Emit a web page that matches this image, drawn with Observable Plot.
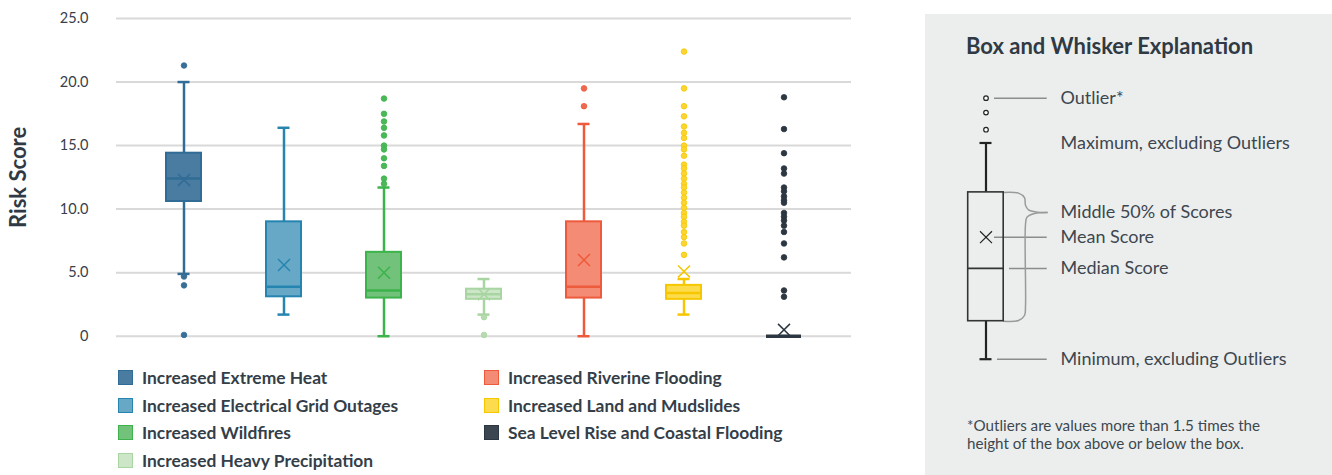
<!DOCTYPE html>
<html><head><meta charset="utf-8">
<script src="https://cdn.jsdelivr.net/npm/d3@7"></script>
<script src="https://cdn.jsdelivr.net/npm/@observablehq/plot@0.6"></script>
<style>
body{margin:0;background:#fff;font-family:Lato,"Open Sans",sans-serif;color:#343e48;}
#wrap{position:relative;width:1332px;height:475px;overflow:hidden;}
#chart{position:absolute;left:0;top:0;}
#legend{position:absolute;left:118px;top:364px;display:grid;grid-template-columns:366px auto;grid-template-rows:repeat(4,27.6px);grid-auto-flow:column;}
.item{display:flex;align-items:center;font-size:17.4px;font-weight:700;white-space:nowrap;color:#343e48;}
.sw{width:15px;height:15px;box-sizing:border-box;border:1.5px solid;margin-right:9px;flex:none;}
#panel{position:absolute;left:925px;top:14px;width:407px;height:461px;background:#ECEEEE;}
#ptitle{position:absolute;left:41px;top:19px;font-size:22px;font-weight:700;line-height:26px;color:#2f3a44;}
#pdiag{position:absolute;left:0;top:66px;}
#pnote{position:absolute;left:42px;top:402px;font-size:15.2px;line-height:18px;color:#3d4750;}
</style></head><body>
<div id="wrap">
  <div id="chart"></div>
  <div id="legend"></div>
  <div id="panel">
    <div id="ptitle">Box and Whisker Explanation</div>
    <div id="pdiag"></div>
    <div id="pnote">*Outliers are values more than 1.5 times the<br>height of the box above or below the box.</div>
  </div>
</div>
<script>
// ---------- data ----------
const categories = [
  "Increased Extreme Heat",
  "Increased Electrical Grid Outages",
  "Increased Wildfires",
  "Increased Heavy Precipitation",
  "Increased Riverine Flooding",
  "Increased Land and Mudslides",
  "Sea Level Rise and Coastal Flooding"
];
const q1Values      = [10.6, 3.1, 3.0, 2.9, 3.0, 2.9, 0];
const medianValues  = [12.4, 3.9, 3.6, 3.3, 3.9, 3.4, 0];
const q3Values      = [14.4, 9.0, 6.6, 3.7, 9.0, 4.0, 0];
const meanValues    = [12.3, 5.6, 5.0, 3.3, 6.0, 5.1, 0.5];
const whiskerLow    = [4.9, 1.7, 0, 1.7, 0, 1.7, 0];
const whiskerHigh   = [20.0, 16.4, 11.7, 4.5, 16.7, 4.5, 0];
const outlierValues = [
  [21.3, 4.7, 4.0, 0.1],
  [],
  [18.7, 17.5, 16.9, 16.4, 15.8, 15.0, 14.7, 14.0, 13.4, 12.4, 12.0],
  [1.5, 0.1],
  [19.5, 18.1],
  [22.4, 19.5, 18.1, 17.3, 16.5, 16.0, 15.6, 15.0, 14.7, 14.2, 13.5, 13.2, 12.8, 12.4, 12.0, 11.7, 11.3, 10.9, 10.5, 10.1, 9.7, 9.4, 9.0, 8.7, 8.2, 7.8, 7.3, 6.4],
  [18.8, 16.3, 14.4, 13.2, 12.8, 11.7, 11.4, 11.0, 10.7, 10.5, 9.7, 9.4, 9.1, 8.7, 8.2, 7.3, 6.2, 3.6, 3.1]
];
const yTicks = [0, 5, 10, 15, 20, 25];

// explanation diagram values
const explainBox = [0, 1.0, 2.39, 3.21, 4.39, 5.69]; // lo, q1, median, mean, q3, hi
const explainOutliers = [6.04, 6.49, 6.87];
const explainLabels = ["Outlier*", "Maximum, excluding Outliers", "Middle 50% of Scores", "Mean Score", "Median Score", "Minimum, excluding Outliers"];
const explainLabelY = [6.87, 5.69, 3.86, 3.21, 2.39, 0];

// ---------- styles ----------
const fillColors   = ["#4A7BA0", "#67A8C6", "#73C27B", "#CDE6C8", "#F48B74", "#FCDC4C", "#3B4651"];
const strokeColors = ["#316C96", "#2685B0", "#3DB34B", "#A8D5A1", "#EE5A3C", "#F6C700", "#2C3742"];
const dotColors    = ["#3A6E96", "#2685B0", "#4AB857", "#B5DBAE", "#EE6A4E", "#FCD630", "#2C3742"];

const rows = categories.map((c, i) => ({
  category: c, q1: q1Values[i], median: medianValues[i], q3: q3Values[i],
  mean: meanValues[i], lo: whiskerLow[i], hi: whiskerHigh[i],
  fill: fillColors[i], stroke: strokeColors[i], dot: dotColors[i]
}));
const outRows = categories.flatMap((c, i) => outlierValues[i].map(v => ({category: c, value: v, dot: dotColors[i], stroke: strokeColors[i]})));
const boxRows = rows.filter(d => d.q3 > d.q1);

const W = 870, H = 345;
const chart = Plot.plot({
  width: W, height: H,
  marginLeft: 116, marginRight: W - 851, marginTop: 18, marginBottom: 9.3,
  style: {fontFamily: "Lato, 'Open Sans', sans-serif", color: "#37404a", background: "transparent"},
  x: {type: "band", domain: categories, paddingInner: 0.65, paddingOuter: 0.475, axis: null},
  y: {domain: [0, 25], axis: null},
  color: {type: "identity"},
  marks: [
    Plot.gridY(yTicks, {stroke: "#D9D9D9", strokeWidth: 2, strokeOpacity: 1}),
    Plot.axisY(yTicks, {tickSize: 0, tickPadding: 28, fontSize: 14.5, label: null,
      tickFormat: d => d === 0 ? "0" : d3.format(".1f")(d)}),
    Plot.text(["Risk Score"], {text: d => d, frameAnchor: "left", textAnchor: "middle", dx: -98, rotate: -90,
      fontSize: 22, fontWeight: "bold", fill: "#2f3a44"}),
    Plot.ruleX(rows, {x: "category", y1: "lo", y2: "hi", stroke: "stroke", strokeWidth: 2.5}),
    Plot.tickY(rows, {x: "category", y: "hi", stroke: "stroke", strokeWidth: 2.5, insetLeft: 11.5, insetRight: 11.5}),
    Plot.tickY(rows, {x: "category", y: "lo", stroke: "stroke", strokeWidth: 2.5, insetLeft: 11.5, insetRight: 11.5}),
    Plot.barY(boxRows, {x: "category", y1: "q1", y2: "q3", fill: "fill", stroke: "stroke", strokeWidth: 2}),
    Plot.tickY(rows, {x: "category", y: "median", stroke: "stroke", strokeWidth: d => d.q3 > d.q1 ? 2.5 : 3.5}),
    Plot.dot(outRows, {x: "category", y: "value", r: 2.8, fill: "dot", stroke: "stroke", strokeWidth: 0.8}),
    Plot.dot(rows, {x: "category", y: "mean", symbol: "times", r: 5.5, stroke: "stroke", strokeWidth: 1.5})
  ]
});
document.getElementById("chart").appendChild(chart);

// ---------- legend ----------
const legend = document.getElementById("legend");
categories.forEach((c, i) => {
  const it = document.createElement("div");
  it.className = "item";
  const sw = document.createElement("span");
  sw.className = "sw";
  sw.style.background = fillColors[i];
  sw.style.borderColor = strokeColors[i];
  it.appendChild(sw);
  it.appendChild(document.createTextNode(c));
  legend.appendChild(it);
});

// ---------- explanation diagram ----------
const [eLo, eQ1, eMed, eMean, eQ3, eHi] = explainBox;
const cx = 60.5, bx1 = 42.7, bx2 = 78.2, leadEnd = 121.7;
const leaders = [
  {y: explainLabelY[0], x1: 69},
  {y: explainLabelY[3], x1: 69},
  {y: explainLabelY[4], x1: 84},
  {y: explainLabelY[5], x1: 72}
];
const brace = [
  ...[[bx2, eQ3], [93, 4.37], [99, 4.25], [100, 4.05], [103, 3.93], [112, 3.87], [leadEnd, 3.86]].map(p => ({x: p[0], y: p[1], s: "a"})),
  ...[[leadEnd, 3.86], [108, 3.83], [101.5, 3.74], [100, 3.55], [100, 1.4], [99, 1.15], [93, 1.02], [bx2, eQ1]].map(p => ({x: p[0], y: p[1], s: "b"}))
];
const ink = "#222";
const diag = Plot.plot({
  width: 407, height: 300,
  marginLeft: 0, marginRight: 0, marginTop: 12.7, marginBottom: 21.3,
  style: {fontFamily: "Lato, 'Open Sans', sans-serif", background: "transparent", overflow: "visible"},
  x: {type: "linear", domain: [0, 407], axis: null},
  y: {domain: [0, 7], axis: null},
  marks: [
    Plot.ruleY(leaders, {y: "y", x1: "x1", x2: leadEnd, stroke: "#8c8c8c", strokeWidth: 1.5}),
    Plot.line(brace, {x: "x", y: "y", z: "s", curve: "catmull-rom", stroke: "#9a9a9a", strokeWidth: 1.5}),
    Plot.ruleX([cx], {y1: eQ3, y2: eHi, stroke: ink, strokeWidth: 2.2}),
    Plot.ruleX([cx], {y1: eLo, y2: eQ1, stroke: ink, strokeWidth: 2.2}),
    Plot.ruleY([eLo, eHi], {x1: cx - 6, x2: cx + 6, stroke: ink, strokeWidth: 2.2}),
    Plot.rect([0], {x1: bx1, x2: bx2, y1: eQ1, y2: eQ3, fill: "none", stroke: "#333", strokeWidth: 1.6}),
    Plot.ruleY([eMed], {x1: bx1, x2: bx2, stroke: "#333", strokeWidth: 1.6}),
    Plot.dot([eMean], {x: cx, y: d => d, symbol: "times", r: 5.5, stroke: ink, strokeWidth: 1.2}),
    Plot.dot(explainOutliers, {x: cx, y: d => d, r: 2.3, fill: "white", stroke: ink, strokeWidth: 1.2}),
    Plot.text(explainLabels, {x: 135, y: (d, i) => explainLabelY[i], text: d => d, textAnchor: "start", fontSize: 18, fill: "#3d4750"})
  ]
});
document.getElementById("pdiag").appendChild(diag);
</script>
</body></html>
